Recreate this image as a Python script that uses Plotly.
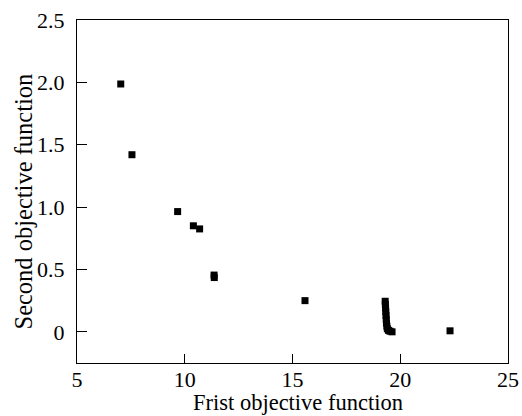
import plotly.graph_objects as go

# Pareto front points (first objective, second objective)
f1 = [7.03, 7.55, 9.67, 10.40, 10.69, 11.36, 11.37, 15.58,
      19.30, 19.31, 19.32, 19.33, 19.34, 19.35, 19.36, 19.38, 19.40, 19.45, 19.52, 19.62,
      22.31]
f2 = [1.987, 1.42, 0.964, 0.85, 0.825, 0.455, 0.435, 0.25,
      0.245, 0.22, 0.19, 0.16, 0.13, 0.10, 0.07, 0.045, 0.025, 0.012, 0.005, 0.0,
      0.008]

x_ticks = [5, 10, 15, 20, 25]
y_ticks = [0, 0.5, 1.0, 1.5, 2.0, 2.5]
y_labels = ["0", "0.5", "1.0", "1.5", "2.0", "2.5"]

fam = "Liberation Serif, Times New Roman, serif"
font = dict(family=fam, size=22, color="black")
xtitle_font = dict(family=fam, size=22.5, color="black")
ytitle_font = dict(family=fam, size=24.5, color="black")

fig = go.Figure()
fig.add_trace(go.Scatter(
    x=f1, y=f2, mode="markers",
    marker=dict(symbol="square", size=7, color="black", line=dict(width=0)),
    showlegend=False, hoverinfo="skip",
))

fig.update_layout(
    width=522, height=416,
    margin=dict(l=77, r=14, t=20, b=53, autoexpand=False),
    paper_bgcolor="white", plot_bgcolor="white",
    font=font,
    annotations=[
        dict(text="Frist objective function", xref="paper", yref="paper",
             x=0.513, y=0, xanchor="center", yanchor="middle", yshift=-39,
             showarrow=False, font=xtitle_font),
        dict(text="Second objective function", xref="paper", yref="paper",
             x=0, y=0.5, xanchor="center", yanchor="middle", xshift=-54, yshift=-10,
             textangle=-90, showarrow=False, font=ytitle_font),
    ],
)
fig.update_xaxes(
    range=[5, 25], tickvals=x_ticks, ticktext=[str(v) for v in x_ticks],
    ticks="inside", ticklen=9, tickwidth=1, tickcolor="black",
    showline=True, linecolor="black", linewidth=1, mirror=True,
    showgrid=False, zeroline=False, tickfont=font, automargin=False,
    ticklabelstandoff=-3,
)
fig.update_yaxes(
    range=[-0.25, 2.5], tickvals=y_ticks, ticktext=y_labels,
    ticks="inside", ticklen=10, tickwidth=1, tickcolor="black",
    showline=True, linecolor="black", linewidth=1, mirror=True,
    showgrid=False, zeroline=False, tickfont=font, automargin=False,
    ticklabelstandoff=7,
)

fig.write_html("out.html", config={"displayModeBar": False},
               post_script="document.body.style.margin='0';document.body.style.overflow='hidden';")
